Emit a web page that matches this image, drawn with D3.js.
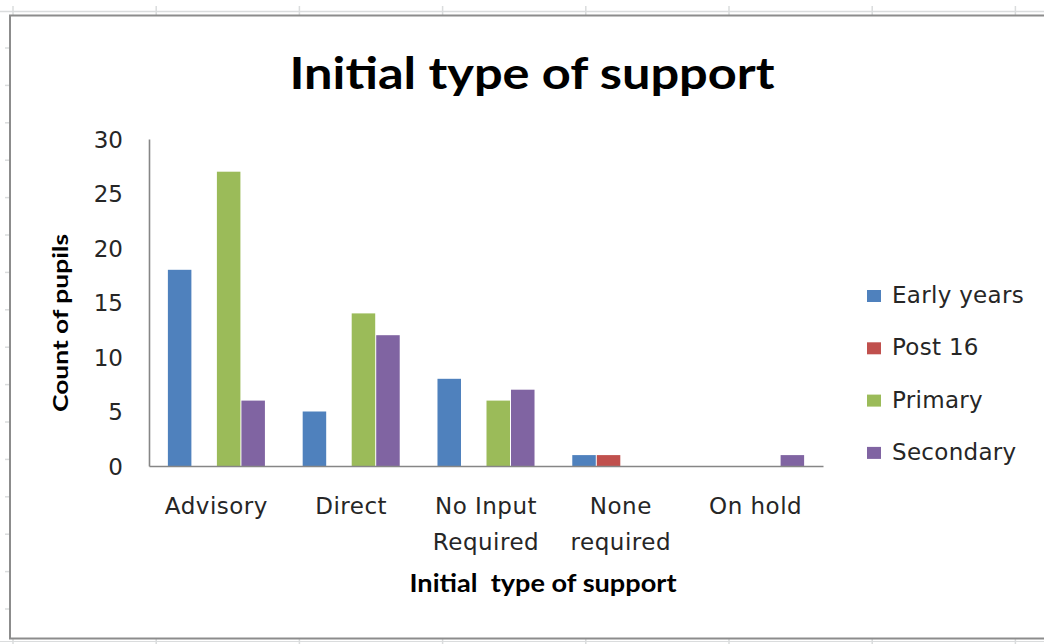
<!DOCTYPE html>
<html>
<head>
<meta charset="utf-8">
<script src="https://cdn.jsdelivr.net/npm/d3@7/dist/d3.min.js"></script>
<style>
  html, body { margin: 0; padding: 0; background: #ffffff; }
  svg { display: block; }
</style>
</head>
<body>
<svg id="chart" width="1044" height="644"></svg>
<script>
// Pupils by initial type of support, split by phase of education
const categories = ["Advisory", "Direct", "No Input Required", "None required", "On hold"];
const categoryLines = [["Advisory"], ["Direct"], ["No Input", "Required"], ["None", "required"], ["On hold"]];
const seriesNames = ["Early years", "Post 16", "Primary", "Secondary"];
const earlyYears = [18, 5, 8, 1, 0];
const post16     = [0, 0, 0, 1, 0];
const primary    = [27, 14, 6, 0, 0];
const secondary  = [6, 12, 7, 0, 1];
const yTicks = [0, 5, 10, 15, 20, 25, 30];
const seriesColors = ["#4F81BD", "#C0504D", "#9BBB59", "#8064A2"];

const seriesValues = [earlyYears, post16, primary, secondary];

const svg = d3.select("#chart");
const W = 1044, H = 644;

svg.append("rect").attr("width", W).attr("height", H).attr("fill", "#ffffff");

// Worksheet cell lines showing around the embedded chart
const cellLine = "#dadcdd";
const bg = svg.append("g");
bg.append("line").attr("x1", 0).attr("x2", W).attr("y1", 11.5).attr("y2", 11.5)
  .attr("stroke", cellLine).attr("stroke-width", 1.5);
bg.append("line").attr("x1", 0).attr("x2", W).attr("y1", 641.5).attr("y2", 641.5)
  .attr("stroke", cellLine).attr("stroke-width", 1);
d3.range(8).map(i => 13 + i * 143.2).forEach(cx => {
  bg.append("line").attr("x1", cx).attr("x2", cx).attr("y1", 6).attr("y2", 15)
    .attr("stroke", cellLine).attr("stroke-width", 1.5);
  bg.append("line").attr("x1", cx).attr("x2", cx).attr("y1", 639).attr("y2", 644)
    .attr("stroke", cellLine).attr("stroke-width", 1.5);
});
d3.range(16).map(i => 48 + i * 37.4).forEach(cy => {
  bg.append("line").attr("x1", 5).attr("x2", 9).attr("y1", cy).attr("y2", cy)
    .attr("stroke", cellLine).attr("stroke-width", 1.5);
});

// Chart area frame
svg.append("rect")
  .attr("x", 10).attr("y", 15.5).attr("width", 1060).attr("height", 623)
  .attr("fill", "#ffffff").attr("stroke", "#8c8c8c").attr("stroke-width", 2);

// Scales
const plot = { left: 149, right: 823, top: 139, bottom: 466 };
const x = d3.scaleBand()
  .domain(categories)
  .range([plot.left, plot.right])
  .paddingInner(1.5 / 5.5)
  .paddingOuter(0.75 / 5.5);
const xs = d3.scaleBand()
  .domain(seriesNames)
  .range([0, x.bandwidth()]);
const y = d3.scaleLinear().domain([0, 30]).range([plot.bottom, plot.top]);

// Title
svg.append("text")
  .attr("x", 532).attr("y", 89)
  .attr("text-anchor", "middle")
  .attr("font-family", "Lato, 'Open Sans', sans-serif")
  .attr("font-weight", 700)
  .attr("font-size", 44)
  .attr("fill", "#000000")
  .attr("textLength", 485)
  .attr("lengthAdjust", "spacingAndGlyphs")
  .text("Initial type of support");

// Bars
const barData = [];
categories.forEach((c, ci) => {
  seriesNames.forEach((s, si) => {
    const v = seriesValues[si][ci];
    if (v > 0) barData.push({ category: c, series: s, value: v, color: seriesColors[si] });
  });
});

svg.append("g").selectAll("rect")
  .data(barData)
  .join("rect")
  .attr("x", d => x(d.category) + xs(d.series) + 0.5)
  .attr("width", xs.bandwidth() - 1)
  .attr("y", d => y(d.value))
  .attr("height", d => y(0) - y(d.value))
  .attr("fill", d => d.color);

// Y axis
const yAxis = svg.append("g")
  .attr("transform", `translate(${plot.left},0)`)
  .call(d3.axisLeft(y).tickValues(yTicks).tickSize(0).tickSizeOuter(0).tickPadding(26));
yAxis.select(".domain").attr("stroke", "#868686").attr("stroke-width", 1.6);
yAxis.selectAll("text")
  .attr("font-family", "'DejaVu Sans', Verdana, sans-serif")
  .attr("font-size", 23)
  .attr("fill", "#262626")
  .attr("dy", "0.36em");

// X axis
const xAxis = svg.append("g")
  .attr("transform", `translate(0,${plot.bottom})`)
  .call(d3.axisBottom(x).tickSize(0).tickSizeOuter(0).tickFormat(""));
xAxis.select(".domain").attr("stroke", "#868686").attr("stroke-width", 1.6);
xAxis.selectAll(".tick text")
  .attr("font-family", "'DejaVu Sans', Verdana, sans-serif")
  .attr("font-size", 23)
  .attr("fill", "#262626")
  .attr("letter-spacing", 0.5)
  .attr("dy", null)
  .attr("y", null)
  .each(function(d, i) {
    const t = d3.select(this);
    categoryLines[i].forEach((line, li) => {
      t.append("tspan").attr("x", 0).attr("y", 48 + li * 36).text(line);
    });
  });

// Axis titles
svg.append("text")
  .attr("transform", "translate(68,323) rotate(-90)")
  .attr("text-anchor", "middle")
  .attr("font-family", "Lato, 'Open Sans', sans-serif")
  .attr("font-weight", 700)
  .attr("font-size", 21)
  .attr("fill", "#000000")
  .attr("textLength", 178)
  .attr("lengthAdjust", "spacingAndGlyphs")
  .text("Count of pupils");

svg.append("text")
  .attr("x", 543).attr("y", 592)
  .attr("text-anchor", "middle")
  .attr("font-family", "Lato, 'Open Sans', sans-serif")
  .attr("font-weight", 700)
  .attr("font-size", 25)
  .attr("fill", "#000000")
  .attr("textLength", 267)
  .attr("lengthAdjust", "spacingAndGlyphs")
  .style("white-space", "pre")
  .text("Initial  type of support");

// Legend
const legend = svg.append("g").selectAll("g")
  .data(seriesNames)
  .join("g")
  .attr("transform", (d, i) => `translate(867,${303 + i * 52.3})`);
legend.append("rect")
  .attr("x", 0).attr("y", -13).attr("width", 14).attr("height", 12)
  .attr("fill", (d, i) => seriesColors[i]);
legend.append("text")
  .attr("x", 25).attr("y", 0)
  .attr("font-family", "'DejaVu Sans', Verdana, sans-serif")
  .attr("font-size", 23)
  .attr("fill", "#262626")
  .attr("letter-spacing", 0.3)
  .text(d => d);
</script>
</body>
</html>
